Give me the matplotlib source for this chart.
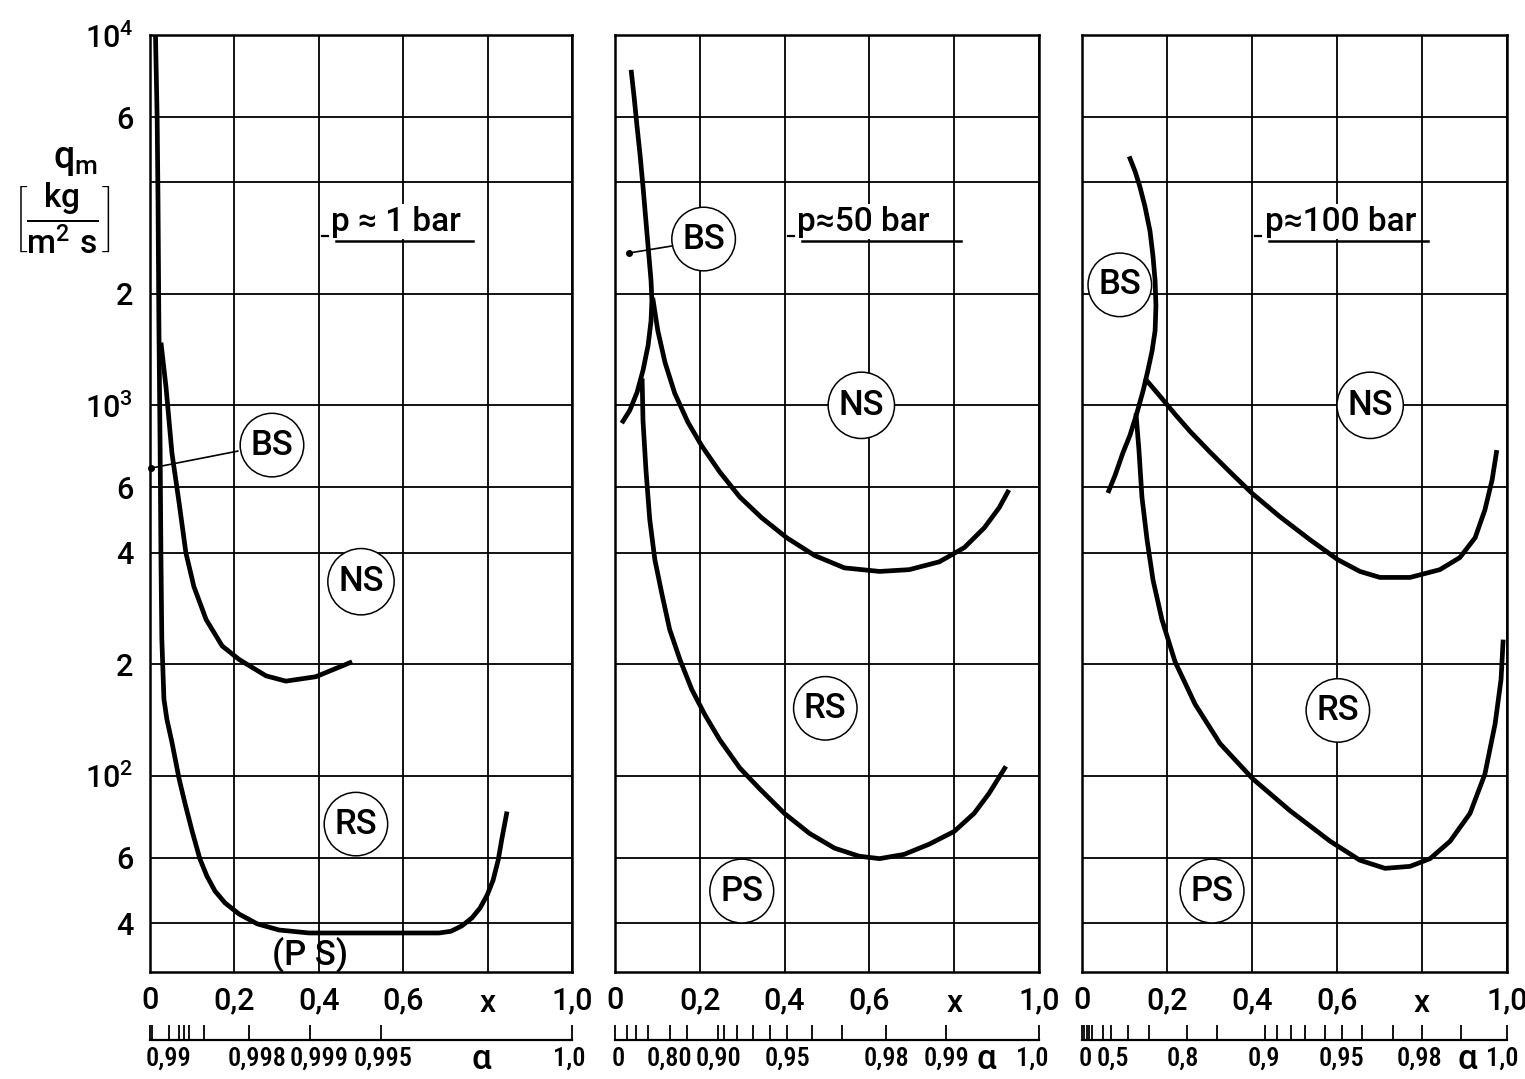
import matplotlib
matplotlib.use('Agg')
import matplotlib.pyplot as plt
from matplotlib.ticker import NullLocator
from matplotlib.transforms import blended_transform_factory

plt.rcParams['font.family'] = ['Roboto', 'DejaVu Sans']
plt.rcParams['font.weight'] = 'medium'
plt.rcParams['mathtext.fontset'] = 'custom'
plt.rcParams['mathtext.rm'] = 'Roboto:medium'
plt.rcParams['mathtext.it'] = 'Roboto:medium'

# --- p ~ 1 bar -------------------------------------------------------------
# lower boundary (BS/NS -> RS -> PS)
lo1_x = [0.013, 0.017, 0.019, 0.021, 0.024, 0.026, 0.028, 0.033, 0.040, 0.052,
         0.069, 0.083, 0.100, 0.118, 0.135, 0.154, 0.178, 0.211, 0.254, 0.306,
         0.377, 0.685, 0.713, 0.739, 0.763, 0.782, 0.799, 0.813, 0.825, 0.834,
         0.846]
lo1_q = [10000, 5910, 3560, 1690, 757, 383, 234, 161, 142, 123,
         98, 84.1, 70.7, 59.7, 53.5, 48.8, 45.3, 42.3, 39.8, 38.3,
         37.6, 37.6, 38.0, 39.3, 41.3, 43.9, 47.6, 52.2, 59.1, 67.7,
         80]
# NS boundary
ns1_x = [0.026, 0.038, 0.052, 0.069, 0.085, 0.104, 0.133, 0.171, 0.211, 0.275,
         0.322, 0.393, 0.479]
ns1_q = [1477, 1118, 743, 545, 400, 324, 264, 224, 206, 186,
         180, 185, 203]

# --- p ~ 50 bar ------------------------------------------------------------
bs2_x = [0.038, 0.045, 0.052, 0.059, 0.066, 0.073, 0.080, 0.085, 0.087, 0.085,
         0.078, 0.066, 0.052, 0.035, 0.016]
bs2_q = [8050, 6810, 5660, 4760, 3900, 3140, 2530, 2170, 1915, 1690,
         1450, 1242, 1084, 970, 895]
ns2_x = [0.089, 0.101, 0.118, 0.141, 0.172, 0.205, 0.247, 0.294, 0.346, 0.405,
         0.471, 0.541, 0.624, 0.694, 0.765, 0.824, 0.871, 0.906, 0.929]
ns2_q = [1950, 1590, 1305, 1077, 900, 776, 661, 566, 497, 439,
         393, 364, 356, 360, 378, 413, 467, 529, 591]
rs2_x = [0.064, 0.066, 0.073, 0.082, 0.094, 0.111, 0.129, 0.153, 0.181, 0.212,
         0.247, 0.294, 0.341, 0.400, 0.459, 0.518, 0.576, 0.624, 0.682, 0.741,
         0.800, 0.847, 0.882, 0.922]
rs2_q = [1182, 911, 669, 491, 383, 308, 248, 206, 171, 146,
         125, 105, 92.2, 79, 69.8, 63.7, 60.6, 59.7, 61.3, 65.3,
         70.7, 79.1, 89.5, 106]

# --- p ~ 100 bar -----------------------------------------------------------
bs3_x = [0.111, 0.125, 0.136, 0.148, 0.160, 0.167, 0.172, 0.174, 0.172, 0.165,
         0.155, 0.144, 0.129, 0.113, 0.096, 0.078, 0.061]
bs3_q = [4700, 4280, 3900, 3450, 2955, 2530, 2170, 1857, 1591, 1405,
         1242, 1097, 952, 831, 743, 648, 580]
ns3_x = [0.148, 0.184, 0.219, 0.254, 0.301, 0.348, 0.402, 0.466, 0.536, 0.602,
         0.654, 0.701, 0.772, 0.842, 0.889, 0.925, 0.948, 0.965, 0.976]
ns3_q = [1182, 1057, 946, 851, 748, 661, 576, 500, 434, 383,
         356, 343, 343, 360, 388, 439, 522, 629, 757]
rs3_x = [0.127, 0.134, 0.141, 0.153, 0.167, 0.188, 0.219, 0.266, 0.325, 0.402,
         0.489, 0.584, 0.654, 0.713, 0.772, 0.819, 0.866, 0.913, 0.948, 0.972,
         0.986, 0.991]
rs3_q = [952, 757, 566, 434, 338, 264, 203, 156, 122, 98,
         80.5, 66.5, 59.1, 56.2, 56.9, 59.7, 66.5, 79.1, 101, 138,
         182, 233]

# region labels: (text, x, q)
regions1 = [('BS', 0.289, 781), ('NS', 0.500, 334), ('RS', 0.488, 74)]
regions2 = [('BS', 0.209, 2812), ('NS', 0.581, 1000), ('RS', 0.496, 152), ('PS', 0.299, 48.8)]
regions3 = [('BS', 0.089, 2115), ('NS', 0.678, 1000), ('RS', 0.602, 150), ('PS', 0.306, 48.8)]

# void-fraction scale under each panel
alpha1_ticks = [0.0, 0.005, 0.045, 0.069, 0.081, 0.092, 0.128, 0.235, 0.379, 0.547, 1.0]
alpha1_text = ['0,99', '0,998', '0,999', '0,995', 'α', '1,0']
alpha1_pos = [0.045, 0.254, 0.400, 0.552, 0.784, 0.993]

alpha2_ticks = [0.0, 0.028, 0.049, 0.078, 0.129, 0.169, 0.242, 0.257, 0.287, 0.325,
                0.365, 0.405, 0.464, 0.536, 0.640, 0.781, 1.0]
alpha2_text = ['0', '0,80', '0,90', '0,95', '0,98', '0,99', 'α', '1,0']
alpha2_pos = [0.007, 0.129, 0.245, 0.407, 0.640, 0.781, 0.875, 0.985]

alpha3_ticks = [0.0, 0.005, 0.011, 0.017, 0.023, 0.049, 0.068, 0.108, 0.158,
                0.247, 0.318, 0.431, 0.459, 0.492, 0.525, 0.572, 0.612, 0.659,
                0.732, 0.800, 0.892, 1.0]
alpha3_text = ['0', '0,5', '0,8', '0,9', '0,95', '0,98', 'α', '1,0']
alpha3_pos = [0.007, 0.073, 0.238, 0.427, 0.611, 0.795, 0.906, 0.990]

y_ticks = [40, 60, 100, 200, 400, 600, 1000, 2000, 4000, 6000, 10000]
y_labels = ['4', '6', r'$10^2$', '2', '4', '6', r'$10^3$', '2', '', '6', r'$10^4$']
x_ticks = [0, 0.2, 0.4, 0.6, 0.8, 1.0]
x_labels = ['0', '0,2', '0,4', '0,6', '', '1,0']

titles = ['p ≈ 1 bar', 'p≈50 bar', 'p≈100 bar']

W, H = 1525, 1079
fig = plt.figure(figsize=(W / 100, H / 100), dpi=100)
lefts = [150, 615, 1082]
widths = [422, 424, 425]
top_px, bot_px = 35, 972

LW = 3.4
circ = dict(boxstyle='circle,pad=0.30', fc='white', ec='black', lw=1.1)
narrow = ['Roboto Condensed', 'Roboto', 'DejaVu Sans']


def panel(i, curves, regions, alpha_ticks, alpha_text, alpha_pos):
    ax = fig.add_axes([lefts[i] / W, (H - bot_px) / H, widths[i] / W, (bot_px - top_px) / H])
    ax.set_yscale('log')
    ax.set_xlim(0, 1.0)
    ax.set_ylim(29.5, 10000)
    ax.yaxis.set_minor_locator(NullLocator())
    ax.set_yticks(y_ticks)
    if i == 0:
        ax.set_yticklabels(y_labels)
    else:
        ax.set_yticklabels([])
    ax.set_xticks(x_ticks)
    ax.set_xticklabels(x_labels)
    ax.tick_params(axis='both', length=0, labelsize=22)
    ax.tick_params(axis='x', pad=10)
    ax.tick_params(axis='y', pad=12)
    ax.grid(True, color='black', lw=1.3)
    for s in ax.spines.values():
        s.set_linewidth(1.8)
    ax.text(0.8, -0.034, 'x', transform=ax.transAxes, ha='center', va='center', fontsize=23)

    for cx, cq in curves:
        ax.plot(cx, cq, color='black', lw=LW, solid_capstyle='butt', solid_joinstyle='round', zorder=3)

    for txt, rx, rq in regions:
        ax.text(rx, rq, txt, ha='center', va='center', fontsize=25, bbox=circ, zorder=5)

    # pressure title, underlined
    ax.text(0.43, 0.791, titles[i], transform=ax.transAxes, ha='left', va='baseline',
            fontsize=24, zorder=5,
            bbox=dict(fc='white', ec='none', pad=1))
    ax.plot([0.44, 0.765 if i == 0 else 0.815], [0.780, 0.780], transform=ax.transAxes,
            color='black', lw=1.8, zorder=6)
    ax.plot([0.408, 0.421], [0.786, 0.786], transform=ax.transAxes,
            color='black', lw=1.6, zorder=6)

    # void-fraction scale
    aa = fig.add_axes([lefts[i] / W, (H - 1040) / H, widths[i] / W, 0.015])
    aa.set_xlim(0, 1.0)
    aa.set_ylim(0, 1)
    for k in ('top', 'left', 'right'):
        aa.spines[k].set_visible(False)
    aa.spines['bottom'].set_linewidth(1.6)
    aa.set_yticks([])
    aa.set_xticks(alpha_ticks)
    aa.set_xticklabels([])
    aa.tick_params(axis='x', direction='in', length=11, width=1.3)
    aa.patch.set_alpha(0)
    tr = blended_transform_factory(aa.transData, aa.transAxes)
    for t, px in zip(alpha_text, alpha_pos):
        if t == 'α':
            aa.text(px, -1.2, t, transform=tr, ha='center', va='center', fontsize=25)
        else:
            aa.text(px, -1.15, t, transform=tr, ha='center', va='center', fontsize=19,
                    family=narrow)
    return ax


ax1 = panel(0, [(lo1_x, lo1_q), (ns1_x, ns1_q)], regions1, alpha1_ticks, alpha1_text, alpha1_pos)
ax1.text(0.38, 32.9, '(P S)', ha='center', va='center', fontsize=25, zorder=5)
ax1.plot([0.003], [677], 'o', color='black', ms=4, zorder=6, clip_on=False)
ax1.annotate('', xy=(0.003, 677), xytext=(0.215, 755),
             arrowprops=dict(arrowstyle='-', color='black', lw=1.2), zorder=4)

ax2 = panel(1, [(bs2_x, bs2_q), (ns2_x, ns2_q), (rs2_x, rs2_q)], regions2,
            alpha2_ticks, alpha2_text, alpha2_pos)
ax2.plot([0.033], [2578], 'o', color='black', ms=4, zorder=6)
ax2.annotate('', xy=(0.033, 2578), xytext=(0.14, 2700),
             arrowprops=dict(arrowstyle='-', color='black', lw=1.2), zorder=4)

ax3 = panel(2, [(bs3_x, bs3_q), (ns3_x, ns3_q), (rs3_x, rs3_q)], regions3,
            alpha3_ticks, alpha3_text, alpha3_pos)

# quantity and unit on the left
fig.text(75 / W, 1 - 160 / H, r'$\mathrm{q_m}$', ha='center', va='center', fontsize=27)
fig.text(62 / W, 1 - 218 / H, r'$\left[\dfrac{\mathrm{kg}}{\mathrm{m^2\ s}}\right]$',
         ha='center', va='center', fontsize=24)

fig.savefig('out.png', dpi=100, facecolor='white')
